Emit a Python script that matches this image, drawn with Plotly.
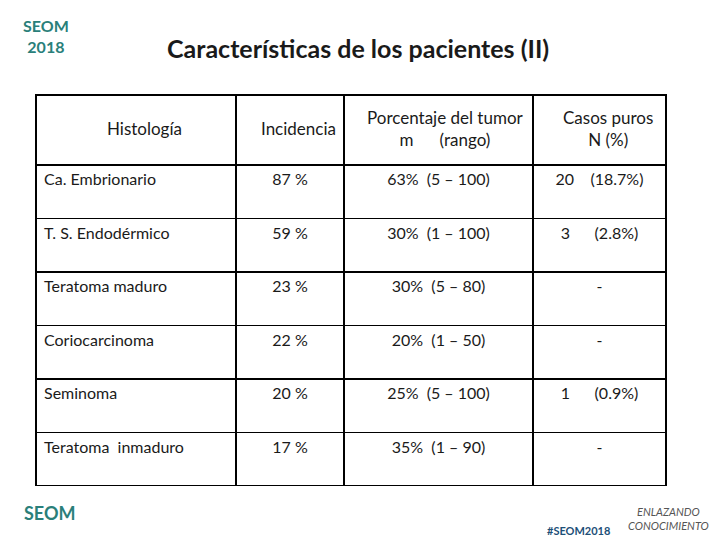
import plotly.graph_objects as go

histologia = ['Ca. Embrionario', 'T. S. Endodérmico', 'Teratoma maduro',
              'Coriocarcinoma', 'Seminoma', 'Teratoma  inmaduro']
incidencia = ['87 %', '59 %', '23 %', '22 %', '20 %', '17 %']
porcentaje = ['63%  (5 – 100)', '30%  (1 – 100)', '30%  (5 – 80)',
              '20%  (1 – 50)', '25%  (5 – 100)', '35%  (1 – 90)']
casos = ['20    (18.7%)', '3      (2.8%)', '-', '-', '1      (0.9%)', '-']
headers = ['Histología', 'Incidencia', 'Porcentaje del tumor<br>m      (rango)',
           'Casos puros<br>N (%)']
# header label centres in pixels (x, y)
header_pos = [(136, 120), (290, 120), (438, 120), (600, 120)]

fig = go.Figure(go.Table(
    domain=dict(x=[28/720, 658/720], y=[62/540, 453/540]),
    columnwidth=[200, 108, 189, 133],
    header=dict(values=['', '', '', ''], height=70,
                fill_color='white', line_color='black', line_width=1.5),
    cells=dict(values=[histologia, incidencia, porcentaje, casos], height=53.5,
               align=['left', 'center', 'center', 'center'],
               fill_color='white', line_color='black', line_width=1.5,
               font=dict(family='Lato', size=16, color='#1a1a1a')),
))


def note(x, y, text, size, color, align='center'):
    fig.add_annotation(x=x/720, y=1-y/540, xref='paper', yref='paper',
                       xanchor='center', yanchor='middle', align=align,
                       text=text, showarrow=False,
                       font=dict(family='Lato', size=size, color=color))


for txt, (px_, py_) in zip(headers, header_pos):
    note(px_, py_, txt, 17, '#1a1a1a')

note(350, 40, '<b>Características de los pacientes (II)</b>', 25, '#1a1a1a')
note(38, 28, '<b>SEOM<br>2018</b>', 16, '#2a7f7a')
note(42, 505, '<b>SEOM</b>', 18, '#2a7f7a')
note(570, 522, '<b>#SEOM2018</b>', 11, '#1d4f78')
note(660, 510, '<i>ENLAZANDO<br>CONOCIMIENTO</i>', 11, '#555555')

fig.update_layout(width=720, height=540, margin=dict(l=0, r=0, t=0, b=0),
                  paper_bgcolor='white', plot_bgcolor='white')
fig.write_html('out.html')
